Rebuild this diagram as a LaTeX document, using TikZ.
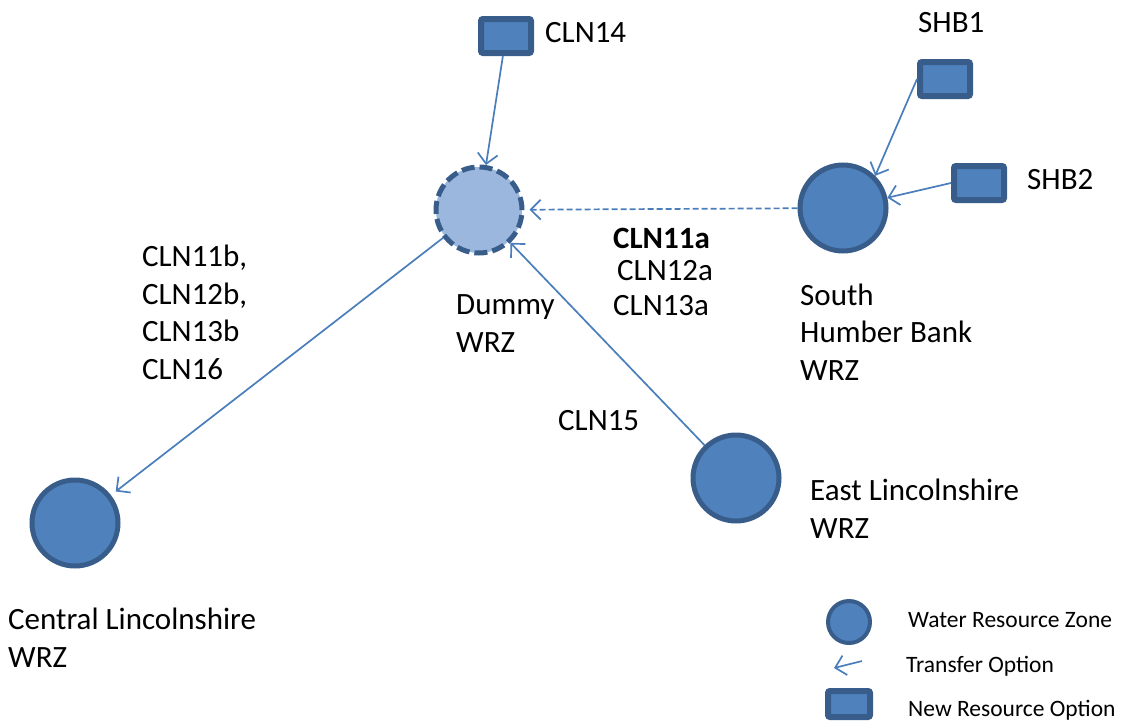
\documentclass[tikz,border=0pt]{standalone}
\usepackage{fontspec}
\setmainfont{Carlito}
\usetikzlibrary{arrows.meta}
\definecolor{wrzblue}{HTML}{4F81BD}
\definecolor{wrzedge}{HTML}{385D8A}
\definecolor{dummyblue}{HTML}{9BB7DD}
\definecolor{linkblue}{HTML}{4A7EBB}
\begin{document}
\begin{tikzpicture}
    [x=1pt, y=-1pt,
    wrz/.style = {circle, draw=wrzedge, fill=wrzblue,
                line width=5pt, minimum size=86pt, inner sep=0pt},
    dummy/.style = {wrz, fill=dummyblue, dash pattern=on 13pt off 5pt},
    resbox/.style = {rectangle, draw=wrzedge, fill=wrzblue, rounded corners=2pt,
                line width=6pt, minimum width=50pt, minimum height=34pt, inner sep=0pt},
    lab/.style = {anchor=base west, align=left, inner sep=0pt,
                font=\fontsize{31}{37.5}\selectfont},
    key/.style = {anchor=base west, inner sep=0pt,
                font=\fontsize{23.5}{28}\selectfont},
    link/.style = {draw=linkblue, line width=1.7pt,
                -{Straight Barb[length=10pt, width=20pt, line width=1.7pt]}}]
    \useasboundingbox (0,0) rectangle (1121,720);
    % Zonas de recursos
    \node[dummy] (dummy) at (479,210) {};
    \node[wrz] (shb) at (843,208) {};
    \node[wrz] (east) at (736,478) {};
    \node[wrz] (central) at (75,523) {};
    % Nuevos recursos
    \node[resbox] (cln14) at (506,36) {};
    \node[resbox] (shb1) at (945,79) {};
    \node[resbox] (shb2) at (979,183) {};
    % Transferencias
    \draw[link] (cln14) -- (dummy);
    \draw[link] (shb1.west) -- (shb.45);
    \draw[link] (shb2.west) -- (shb);
    \draw[link, dash pattern=on 6pt off 3pt, shorten >=5pt] (shb) -- (dummy);
    \draw[link, shorten >=6pt] (dummy) -- (central);
    \draw[link] (east) -- (dummy);
    % Etiquetas (base = ultima linea)
    \node[lab] (cln14lab) at (545,42) {CLN14};
    \node[lab] (shb1lab) at (918,32) {SHB1};
    \node[lab] (shb2lab) at (1027,189) {SHB2};
    \node[lab] (aopts) at (613,248) {\textbf{CLN11a}};
    \node[lab] (aopts2) at (617,280) {CLN12a};
    \node[lab] (aopts3) at (613,315) {CLN13a};
    \node[lab] (bopts) at (142,379) {CLN11b,\\CLN12b,\\CLN13b\\CLN16};
    \node[lab] (dummylab) at (456,352) {Dummy\\WRZ};
    \node[lab] (shblab) at (800,380) {South\\Humber Bank\\WRZ};
    \node[lab] (cln15lab) at (558,430) {CLN15};
    \node[lab] (eastlab) at (810,538) {East Lincolnshire\\WRZ};
    \node[lab] (centrallab) at (8,667) {Central Lincolnshire\\WRZ};
    % Leyenda
    \node[wrz, minimum size=42pt, line width=4pt] (keywrz) at (849,622) {};
    \coordinate (keyfrom) at (862,661);
    \coordinate (keyto) at (834,668);
    \draw[link] (keyfrom) -- (keyto);
    \node[resbox, minimum width=42pt, minimum height=26pt] (keybox) at (849,704) {};
    \node[key] (keywrzlab) at (908,627) {Water Resource Zone};
    \node[key] (keylinklab) at (906,672) {Transfer Option};
    \node[key] (keyboxlab) at (908,716) {New Resource Option};
\end{tikzpicture}
\end{document}
